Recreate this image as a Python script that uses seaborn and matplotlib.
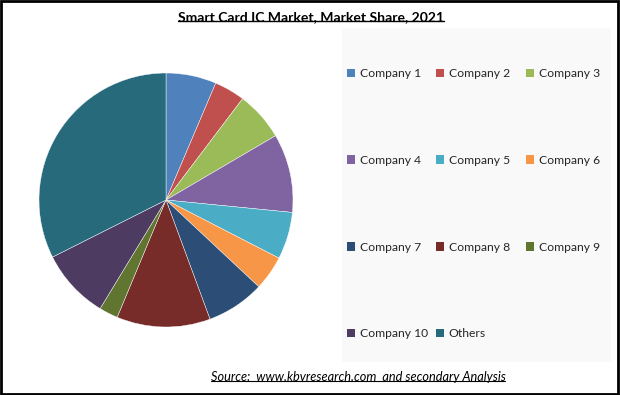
import matplotlib
matplotlib.use("Agg")
import matplotlib.pyplot as plt
import seaborn as sns
from matplotlib.patches import Rectangle, Patch
from matplotlib.lines import Line2D

# ---- data ----
categories = ["Company 1", "Company 2", "Company 3", "Company 4", "Company 5",
              "Company 6", "Company 7", "Company 8", "Company 9", "Company 10", "Others"]
shares = [6.4, 3.9, 6.25, 10.0, 6.0, 4.4, 7.4, 11.9, 2.4, 8.9, 32.4]
colors_hex = ["#4F81BD", "#C0504D", "#9BBB59", "#8064A2", "#4BACC6", "#F79646",
              "#2C4D75", "#772C2A", "#5F7530", "#4D3B62", "#276A7C"]
title = "Smart Card IC Market, Market Share, 2021"
source = "Source:  www.kbvresearch.com  and secondary Analysis"

sns.set_theme(style="white")
plt.rcParams["font.family"] = ["Lato", "DejaVu Sans"]
palette = sns.color_palette(colors_hex)

W, H = 620, 395
fig = plt.figure(figsize=(W / 100, H / 100), dpi=100)
fig.patch.set_facecolor("white")

def fx(px):
    return px / W

def fy(py):
    return 1 - py / H

# legend background panel
fig.patches.append(Rectangle((fx(342), fy(362)), fx(611) - fx(342), fy(28) - fy(362),
                             transform=fig.transFigure, facecolor="#f9f9f9",
                             edgecolor="none", zorder=0))
# figure border
fig.patches.append(Rectangle((0.0015, 0.003), 0.996, 0.994, transform=fig.transFigure,
                             facecolor="none", edgecolor="black", linewidth=2, zorder=10))

# pie axes: center (166,200), radius 127
cx, cy, r = 166, 200, 127
ax = fig.add_axes([fx(cx - r), fy(cy + r), fx(2 * r), fy(cy - r) - fy(cy + r)])
ax.pie(shares, colors=palette, startangle=90, counterclock=False, radius=1.0,
       wedgeprops=dict(linewidth=0.3, edgecolor="white"))
ax.set_xlim(-1.0, 1.0)
ax.set_ylim(-1.0, 1.0)
ax.set_aspect("equal")
ax.axis("off")

# legend: three columns, filled row-wise
handles = [Patch(facecolor=palette[i], edgecolor="none") for i in range(len(categories))]
col_x = [347, 436, 526]
for c, x0 in enumerate(col_x):
    idx = list(range(c, len(categories), 3))
    leg = fig.legend([handles[i] for i in idx], [categories[i] for i in idx],
                     loc="upper left", bbox_to_anchor=(fx(x0), fy(68)),
                     frameon=False, fontsize=8.7, handlelength=0.7, handleheight=0.7,
                     handletextpad=0.35, labelspacing=6.27, borderpad=0.0,
                     borderaxespad=0.0)

# title and source text
t = fig.text(fx(311), fy(17), title, ha="center", va="center", fontsize=10.1,
             fontweight="bold", color="black")
s = fig.text(fx(358), fy(377), source, ha="center", va="center", fontsize=9.2,
             style="italic", color="black")

fig.canvas.draw()
renderer = fig.canvas.get_renderer()
for txt, lw in ((t, 1.0), (s, 0.8)):
    bb = txt.get_window_extent(renderer).transformed(fig.transFigure.inverted())
    yline = bb.y0 + 0.004
    fig.lines.append(Line2D([bb.x0, bb.x1], [yline, yline], transform=fig.transFigure,
                            color="black", linewidth=lw))

fig.savefig("out.png", dpi=100)
